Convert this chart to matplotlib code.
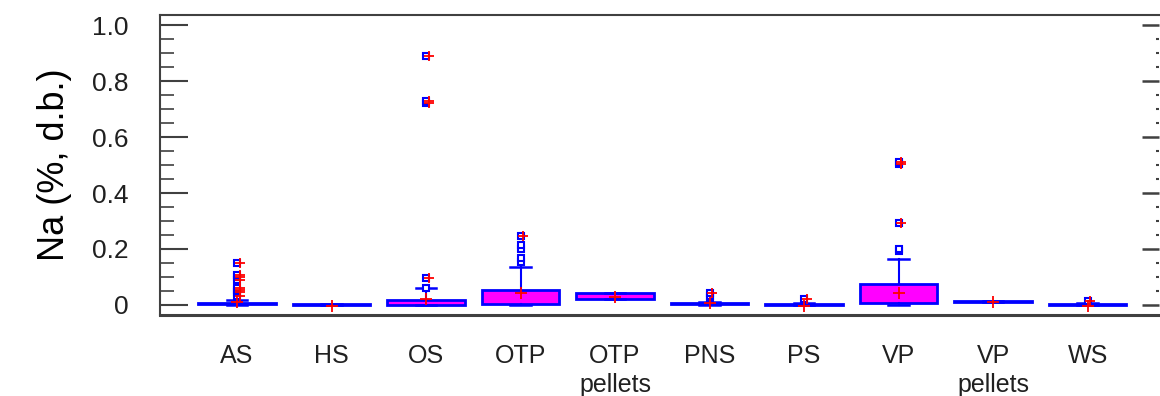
import matplotlib
matplotlib.use("Agg")
import matplotlib.pyplot as plt
from matplotlib.ticker import MultipleLocator

plt.rcParams['font.family'] = ['Liberation Sans', 'DejaVu Sans']

# categories and box statistics (Na, % d.b.)
categories = ['AS', 'HS', 'OS', 'OTP', 'OTP\npellets', 'PNS', 'PS', 'VP', 'VP\npellets', 'WS']
q1 = [0.004, 0.000, 0.000, 0.003, 0.023, 0.004, 0.000, 0.006, 0.011, 0.000]
median = [0.005, 0.001, 0.004, 0.010, 0.030, 0.005, 0.001, 0.012, 0.012, 0.001]
q3 = [0.007, 0.002, 0.018, 0.054, 0.042, 0.007, 0.003, 0.076, 0.013, 0.003]
whisker_low = [0.000, 0.000, 0.000, 0.000, 0.023, 0.000, 0.000, 0.000, 0.011, 0.000]
whisker_high = [0.018, 0.005, 0.060, 0.137, 0.042, 0.010, 0.006, 0.164, 0.013, 0.006]
means = [0.010, -0.004, 0.020, 0.044, 0.030, 0.008, -0.003, 0.044, 0.012, -0.003]
outliers = [
    [0.032, 0.045, 0.055, 0.062, 0.089, 0.100, 0.107, 0.149],
    [],
    [0.062, 0.095, 0.720, 0.730, 0.889],
    [0.152, 0.167, 0.200, 0.214, 0.246],
    [],
    [0.025, 0.032, 0.042],
    [0.020],
    [0.194, 0.200, 0.292, 0.504, 0.510],
    [],
    [0.015],
]
# outliers additionally flagged with a red cross
flagged = [
    [0.032, 0.045, 0.055, 0.062, 0.089, 0.100, 0.107, 0.149],
    [],
    [0.095, 0.720, 0.730, 0.889],
    [0.246],
    [],
    [0.042],
    [0.020],
    [0.292, 0.504, 0.510],
    [],
    [0.015],
]
ytick_values = [0, 0.2, 0.4, 0.6, 0.8, 1.0]
ytick_labels = ['0', '0.2', '0.4', '0.6', '0.8', '1.0']

blue = '#0000FF'
magenta = '#FF00FF'
red = '#FF0000'
axis_color = '#404040'

fig = plt.figure(figsize=(11.6, 3.96), dpi=100)
ax = fig.add_axes([0.138, 0.2045, 0.8615, 0.7575])

stats = []
for i, name in enumerate(categories):
    stats.append({
        'label': name,
        'q1': q1[i], 'med': median[i], 'q3': q3[i],
        'whislo': whisker_low[i], 'whishi': whisker_high[i],
        'mean': means[i], 'fliers': outliers[i],
    })

positions = list(range(1, len(categories) + 1))
ax.bxp(stats, positions=positions, widths=0.82, capwidths=0.22,
       patch_artist=True, showmeans=False,
       boxprops=dict(facecolor=magenta, edgecolor=blue, linewidth=2),
       medianprops=dict(color=blue, linewidth=0),
       whiskerprops=dict(color=blue, linewidth=1.5),
       capprops=dict(color=blue, linewidth=1.8),
       flierprops=dict(marker='s', markersize=4, markerfacecolor='white',
                       markeredgecolor=blue, markeredgewidth=1.5))

# mean markers
ax.plot(positions, means, linestyle='none', marker='+', color=red,
        markersize=9, markeredgewidth=1.3, zorder=5)

# flagged outliers
for pos, vals in zip(positions, flagged):
    if vals:
        ax.plot([pos + 0.03] * len(vals), vals, linestyle='none', marker='+',
                color=red, markersize=7, markeredgewidth=1.3, zorder=5)

ax.set_xlim(0.186, 10.76)
ax.set_ylim(-0.036, 1.036)
ax.set_xticks(positions)
ax.set_xticklabels(categories, fontsize=18, linespacing=1.25, va='top')
ax.set_yticks(ytick_values)
ax.set_yticklabels(ytick_labels, fontsize=19)
ax.yaxis.set_minor_locator(MultipleLocator(0.05))

ax.tick_params(axis='x', length=0, pad=21, colors='#202020')
ax.tick_params(axis='y', which='major', direction='in', length=20, width=1.5,
               pad=23, color=axis_color, labelcolor='#202020')
ax.tick_params(axis='y', which='minor', direction='in', length=10, width=1.2,
               color=axis_color)

# short ticks along the right edge
right = ax.secondary_yaxis('right')
right.set_yticks(ytick_values)
right.yaxis.set_minor_locator(MultipleLocator(0.05))
right.tick_params(which='major', direction='in', length=12, width=1.8,
                  color=axis_color, labelright=False)
right.tick_params(which='minor', direction='in', length=2, width=1.5,
                  color=axis_color)
right.spines['right'].set_visible(False)

ax.set_ylabel('Na (%, d.b.)', fontsize=26, labelpad=14)

for side in ['left', 'top']:
    ax.spines[side].set_color(axis_color)
    ax.spines[side].set_linewidth(1.5)
ax.spines['right'].set_visible(False)
ax.spines['bottom'].set_color(axis_color)
ax.spines['bottom'].set_linewidth(2.2)

fig.savefig('out.png', dpi=100)
